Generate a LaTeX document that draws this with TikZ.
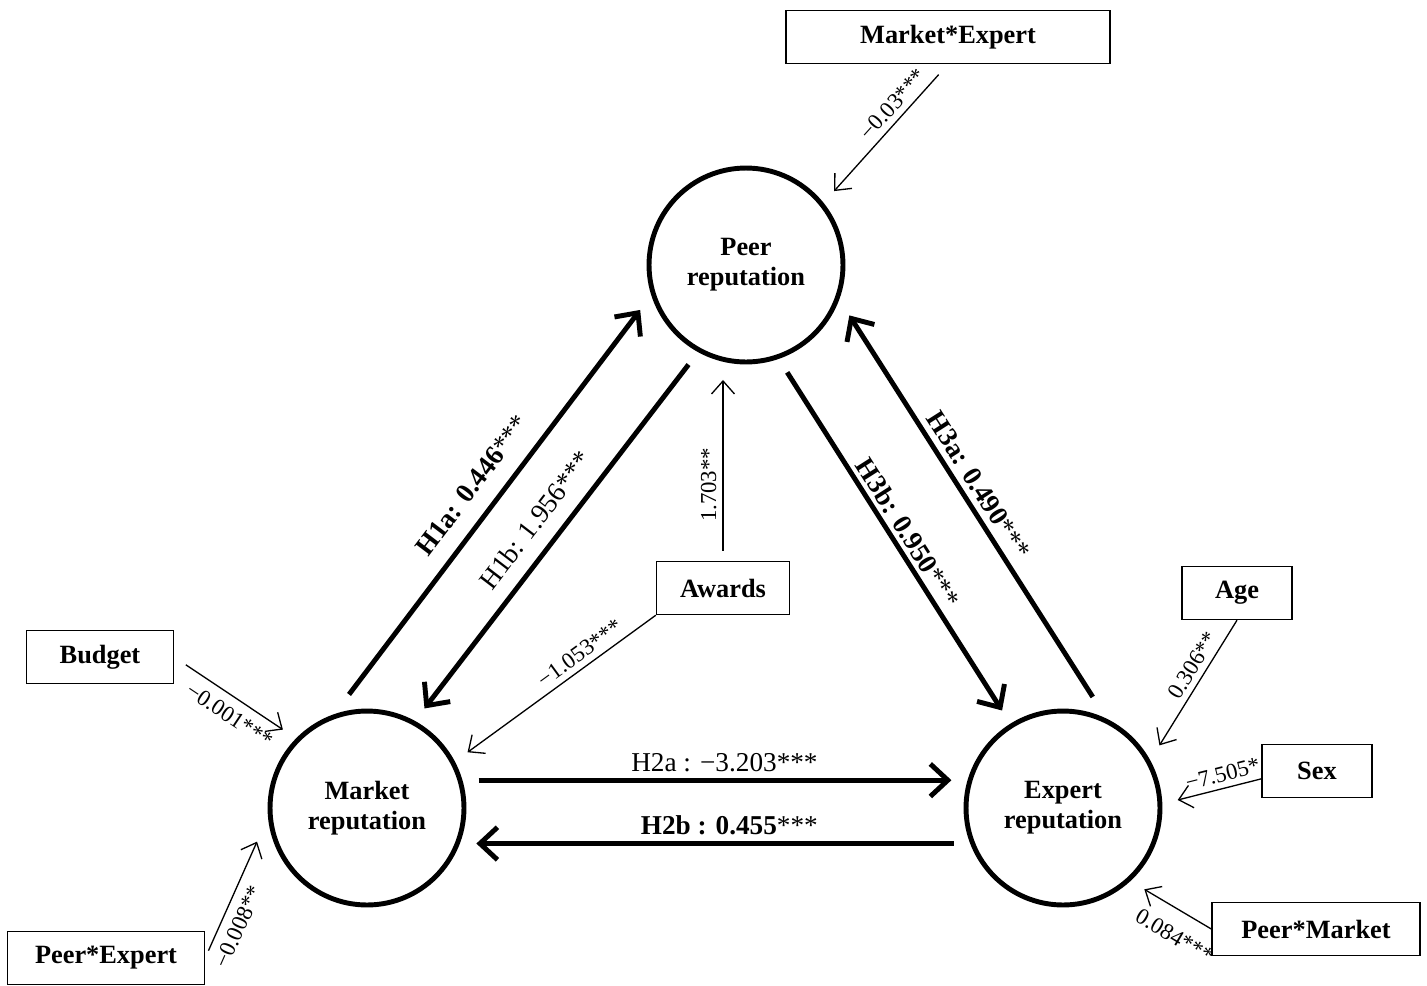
\documentclass[tikz,border=0pt]{standalone}
\usepackage{fontspec}
\setmainfont{Liberation Serif}
\usetikzlibrary{arrows.meta}

\begin{document}
\begin{tikzpicture}[x=0.02cm, y=-0.02cm,
		rep/.style={circle, draw, line width=2.8pt, minimum size=3.88cm, outer sep=0.36cm, align=center, font=\fontsize{15}{17}\selectfont\bfseries},
		fac/.style={draw, line width=0.8pt, minimum height=1.06cm, font=\fontsize{15}{17}\selectfont\bfseries},
		hyp/.style={line width=2.8pt, -{Straight Barb[length=3.5mm, width=6.5mm]}},
		ctl/.style={line width=0.75pt, -{Straight Barb[length=2.6mm, width=4.6mm]}},
		hlab/.style={font=\fontsize{15.5}{18}\selectfont, sloped},
		clab/.style={font=\fontsize{13}{15}\selectfont, sloped}]
		\useasboundingbox (0,0) rectangle (1427,985);
		% reputations
		\node[rep] (peer) at (746,265) {Peer\\reputation};
		\node[rep] (market) at (367,808) {Market\\reputation};
		\node[rep] (expert) at (1063,808) {Expert\\reputation};
		% controls
		\node[fac, minimum width=6.48cm] (mktexp) at (948,37) {Market*Expert};
		\node[fac, minimum width=2.66cm] (awards) at (723,588) {Awards};
		\node[fac, minimum width=2.94cm] (budget) at (100,657) {Budget};
		\node[fac, minimum width=3.94cm] (peerexp) at (106,958) {Peer*Expert};
		\node[fac, minimum width=2.2cm] (age) at (1237,593) {Age};
		\node[fac, minimum width=2.2cm] (sex) at (1317,771) {Sex};
		\node[fac, minimum width=4.16cm] (peermkt) at (1316,929) {Peer*Market};
		% hypotheses
		\draw[hyp] (market.99) -- node[hlab, above=6pt] {\textbf{H1a: 0.446}***} (peer.203);
		\draw[hyp] (peer.240) -- node[hlab, above=5pt] {H1b: 1.956***} (market.60);
		\draw[hyp] (peer.291) -- node[hlab, above=-1pt] {\textbf{H3b: 0.950}***} (expert.122);
		\draw[hyp] (expert.75) -- node[hlab, above, pos=0.53] {\textbf{H3a: 0.490}***} (peer.334);
		\draw[hyp] (market.14) -- node[hlab, above, pos=0.52] {H2a : −3.203***} (expert.166);
		\draw[hyp] (expert.198) -- node[hlab, above, pos=0.47] {\textbf{H2b : 0.455}***} (market.342);
		% control effects
		\draw[ctl, shorten <=0.28cm] (mktexp.south) -- node[clab, above, pos=0.39] {−0.03***} (peer.40);
		\draw[ctl, shorten <=0.2cm] (awards.north) -- node[clab, above, pos=0.42] {1.703**} (awards.north |- peer.south);
		\draw[ctl] (awards.south west) -- node[clab, above, pos=0.36] {−1.053***} (market.29);
		\draw[ctl, shorten <=0.28cm] (budget.east) -- node[clab, below=2pt, pos=0.6] {−0.001***} (market.137);
		\draw[ctl, shorten <=0.16cm] (peerexp.east) -- node[clab, below=2pt, pos=0.33] {−0.008**} (market.197);
		\draw[ctl] (age.south) -- node[clab, above, pos=0.42] {0.306**} (expert.33);
		\draw[ctl] (sex.188) -- node[clab, above, pos=0.42] {−7.505*} (expert.4);
		\draw[ctl] (peermkt.west) -- node[clab, below=6pt, pos=0.36] {0.084***} (expert.315);
\end{tikzpicture}
\end{document}
